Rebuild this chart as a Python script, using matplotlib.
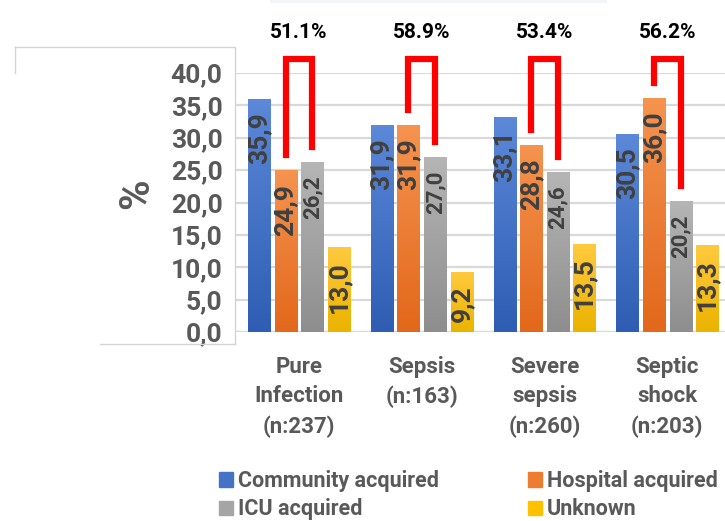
import numpy as np
import matplotlib
matplotlib.use("Agg")
import matplotlib.pyplot as plt
from matplotlib.colors import LinearSegmentedColormap
from matplotlib.lines import Line2D
from matplotlib.patches import Rectangle

plt.rcParams['font.family'] = ['Roboto', 'DejaVu Sans']
plt.rcParams['font.weight'] = 'bold'

# data
categories = ["Pure\nInfection\n(n:237)", "Sepsis\n(n:163)",
              "Severe\nsepsis\n(n:260)", "Septic\nshock\n(n:203)"]
series_names = ["Community acquired", "Hospital acquired", "ICU acquired", "Unknown"]
community = [35.9, 31.9, 33.1, 30.5]
hospital = [24.9, 31.9, 28.8, 36.0]
icu = [26.2, 27.0, 24.6, 20.2]
unknown = [13.0, 9.2, 13.5, 13.3]
y_ticks = [0, 5, 10, 15, 20, 25, 30, 35, 40]

series = [community, hospital, icu, unknown]
# (top colour, bottom colour) for the gradient fills
grad_colors = [("#5B88D8", "#2F5DB3"),
               ("#F5934F", "#E2681B"),
               ("#B5B5B5", "#8E8E8E"),
               ("#FFC93E", "#EBB300")]
solid_colors = ["#4472C4", "#ED7D31", "#A5A5A5", "#FFC000"]
label_sizes = [19, 19, 16, 19]
text_grey = "#595959"
label_dark = "#404040"

fig = plt.figure(figsize=(7.25, 5.21), dpi=100)
ax = fig.add_axes([235 / 725, (521 - 332) / 521, 490 / 725, 259 / 521])

x = np.arange(len(categories))
step = 0.217
width = 0.18
offsets = [-1.5 * step, -0.5 * step, 0.5 * step, 1.5 * step]

handles = []
for i, vals in enumerate(series):
    bars = ax.bar(x + offsets[i], vals, width, color=solid_colors[i], zorder=3,
                  label=series_names[i])
    handles.append(Rectangle((0, 0), 1, 1, color=solid_colors[i]))
    cmap = LinearSegmentedColormap.from_list("g%d" % i, [grad_colors[i][1], grad_colors[i][0]])
    grad = np.linspace(0, 1, 64).reshape(-1, 1)
    for p, v in zip(bars.patches, vals):
        x0 = p.get_x()
        ax.imshow(grad, extent=(x0, x0 + width, 0, v), origin="lower", aspect="auto",
                  cmap=cmap, zorder=3, interpolation="bilinear")
        p.set_facecolor("none")
        p.set_edgecolor("none")
        ax.text(x0 + width / 2, v - 2.0, ("%.1f" % v).replace(".", ","), rotation=90,
                ha="center", va="top", fontsize=label_sizes[i], color=label_dark,
                fontweight="bold", zorder=5)

# red brackets between hospital and ICU bars, with their sum
top = 42.1
gap = 2.4
for j in range(len(categories)):
    xl = x[j] + offsets[1]
    xr = x[j] + offsets[2]
    ax.plot([xl, xl, xr, xr], [hospital[j] + gap, top, top, icu[j] + gap],
            color="#FF0000", lw=4.5, solid_joinstyle="miter", clip_on=False, zorder=6)
    ax.text((xl + xr) / 2, 46.2, "%.1f%%" % (hospital[j] + icu[j]), ha="center",
            va="center", fontsize=15, fontweight="bold", color="black", clip_on=False)

ax.set_xlim(-0.5216, 3.47)
ax.set_ylim(0, 40)
ax.set_yticks(y_ticks)
ax.set_yticklabels([("%.1f" % t).replace(".", ",") for t in y_ticks])
ax.set_xticks(x)
ax.set_xticklabels(categories, linespacing=1.45)
ax.tick_params(axis="y", length=0, pad=9, labelsize=19, labelcolor=text_grey)
ax.tick_params(axis="x", length=0, pad=17, labelsize=16, labelcolor=text_grey)
for lab in ax.get_xticklabels() + ax.get_yticklabels():
    lab.set_fontweight("bold")
for s in ax.spines.values():
    s.set_visible(False)
ax.yaxis.grid(True, color="#D9D9D9", lw=1.6, zorder=0)
ax.set_axisbelow(True)
ax.axhline(0, color="#D9D9D9", lw=1.6, zorder=2)

fig.text(137 / 725, 1 - 194 / 521, "%", rotation=90, ha="center", va="center",
         fontsize=30, fontweight="bold", color=text_grey)

# frame lines around the value-axis area
def fline(xs, ys):
    fig.add_artist(Line2D([v / 725 for v in xs], [1 - v / 521 for v in ys],
                          color="#D4D4D4", lw=1.0))

fline([15, 235, 235], [47, 47, 344])
fline([15, 15], [47, 73])
fline([100, 235], [344, 344])
fig.add_artist(Rectangle((270 / 725, 1 - 3 / 521), 337 / 725, 3 / 521,
                         facecolor="#F2F4F7", edgecolor="none"))

# legend is filled row by row in the reference
order = [0, 2, 1, 3]
fig.legend([handles[k] for k in order], [series_names[k] for k in order],
           loc="upper left", ncol=2,
           bbox_to_anchor=(219 / 725, 1 - 470 / 521), frameon=False,
           fontsize=15.5, labelcolor=text_grey, handlelength=0.65, handleheight=0.65,
           handletextpad=0.25, columnspacing=4.1, labelspacing=0.3,
           borderpad=0, borderaxespad=0)

fig.savefig("out.png", dpi=100)
